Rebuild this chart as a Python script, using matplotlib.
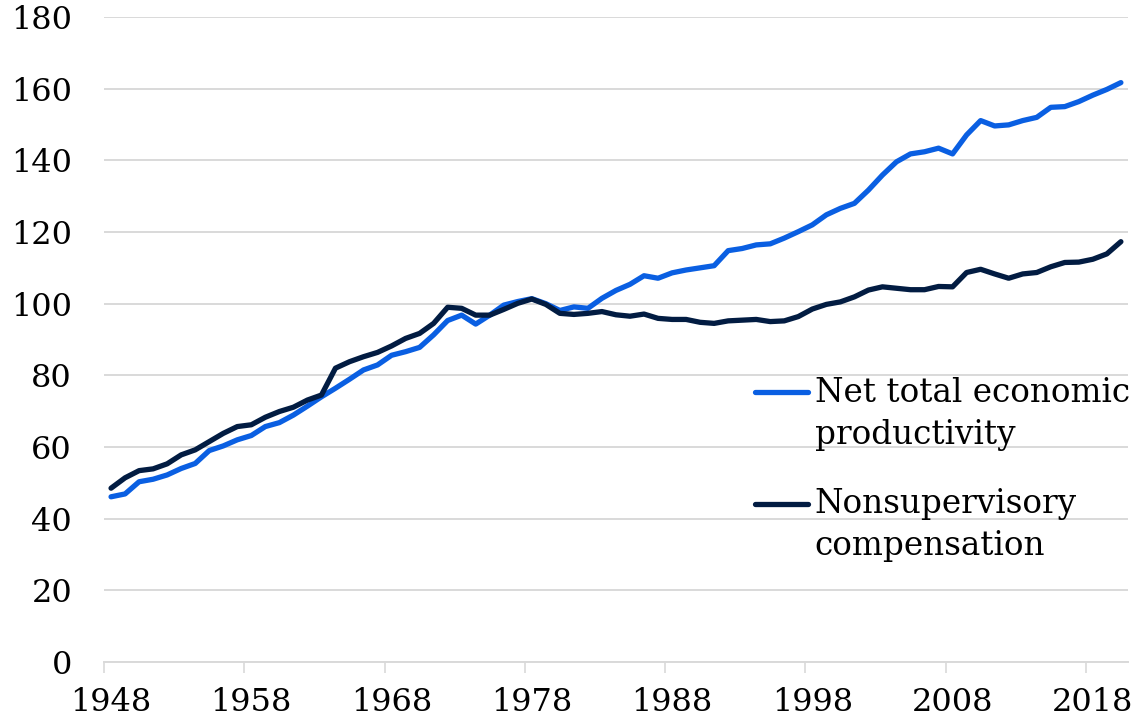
import matplotlib.pyplot as plt
from matplotlib.lines import Line2D

years = list(range(1948, 2021))

productivity = [
    46.1, 46.9, 50.3, 51.0, 52.2, 54.0, 55.4, 59.0, 60.3, 62.0,
    63.2, 65.7, 66.8, 68.9, 71.4, 74.0, 76.4, 78.9, 81.5, 82.9,
    85.6, 86.6, 87.8, 91.3, 95.3, 96.8, 94.3, 96.8, 99.6, 100.6,
    101.4, 100.0, 98.1, 99.1, 98.7, 101.5, 103.7, 105.4, 107.8, 107.1,
    108.6, 109.4, 110.0, 110.6, 114.8, 115.4, 116.4, 116.7, 118.3, 120.1,
    122.0, 124.8, 126.6, 128.0, 131.7, 135.9, 139.6, 141.8, 142.4, 143.4,
    141.8, 147.1, 151.1, 149.6, 149.9, 151.1, 152.0, 154.8, 155.0, 156.4,
    158.2, 159.8, 161.7,
]

compensation = [
    48.5, 51.4, 53.4, 53.9, 55.3, 57.8, 59.2, 61.5, 63.8, 65.7,
    66.2, 68.3, 69.9, 71.1, 73.1, 74.5, 82.0, 83.8, 85.2, 86.4,
    88.2, 90.3, 91.7, 94.5, 99.0, 98.7, 96.8, 96.8, 98.4, 100.1,
    101.3, 99.8, 97.3, 97.0, 97.3, 97.8, 96.9, 96.5, 97.1, 95.9,
    95.6, 95.6, 94.8, 94.5, 95.2, 95.4, 95.6, 95.0, 95.2, 96.4,
    98.5, 99.8, 100.5, 101.9, 103.8, 104.7, 104.3, 103.9, 103.9, 104.8,
    104.7, 108.7, 109.6, 108.3, 107.1, 108.3, 108.7, 110.3, 111.5, 111.6,
    112.4, 113.9, 117.3,
]

labels = ["Net total economic\nproductivity", "Nonsupervisory\ncompensation"]
colors = ["#0a5fe2", "#021c42"]

plt.rcParams["font.family"] = "DejaVu Serif"

fig = plt.figure(figsize=(11.37, 7.28), dpi=100)
ax = fig.add_axes([0.0915, 0.0907, 0.9005, 0.8859])

ax.plot(years, productivity, color=colors[0], lw=3.8, solid_joinstyle="round",
        solid_capstyle="round", zorder=3)
ax.plot(years, compensation, color=colors[1], lw=3.8, solid_joinstyle="round",
        solid_capstyle="round", zorder=4)

ax.set_ylim(0, 180)
ax.set_yticks(range(0, 181, 20))
ax.set_xlim(years[0] - 0.5, years[-1] + 0.5)
ax.set_xticks(range(1948, 2021, 10))
ax.set_xticks([y - 0.5 for y in range(1948, 2021, 10)], minor=True)
ax.tick_params(axis="x", which="major", length=0, pad=18, labelsize=23)
ax.tick_params(axis="x", which="minor", length=8, width=1.2, color="#d9d9d9")
ax.tick_params(axis="y", length=0, pad=23, labelsize=23)

ax.grid(axis="y", color="#d9d9d9", lw=1.4, zorder=0)
for side in ["left", "right", "top"]:
    ax.spines[side].set_visible(False)
ax.spines["bottom"].set_color("#d9d9d9")
ax.spines["bottom"].set_linewidth(1.4)

# legend drawn by hand so the line sits beside the first text line
for i, (label, color) in enumerate(zip(labels, colors)):
    y0 = [0.4186, 0.245][i]
    ax.add_line(Line2D([0.636, 0.6875], [y0, y0], color=color, lw=3.8,
                       transform=ax.transAxes, solid_capstyle="round"))
    ax.text(0.694, y0 + 0.024, label, transform=ax.transAxes, fontsize=23.5,
            va="top", ha="left", linespacing=1.4, color="black")

fig.savefig("out.png", dpi=100)
